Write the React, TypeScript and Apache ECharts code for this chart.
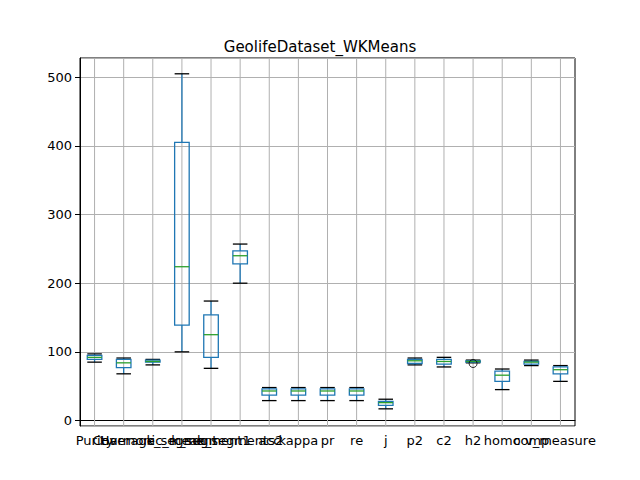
import React, { useEffect, useRef } from "react";
import * as echarts from "echarts";

const categories = ["Purity", "Coverage", "Harmonic_mean", "k_segment", "k_segment1", "k_segments2", "acc", "kappa", "pr", "re", "j", "p2", "c2", "h2", "homo", "comp", "v_measure"];
// [whiskerLow, q1, median, q3, whiskerHigh]
const boxes = [
  [85, 89, 92, 95, 97],
  [68, 77, 84, 89, 91],
  [81, 85, 86, 88, 89],
  [100, 139, 224, 405, 505],
  [76, 92, 125, 154, 174],
  [200, 228, 240, 247, 257],
  [29, 37, 43, 46, 48],
  [29, 37, 43, 46, 48],
  [29, 37, 43, 46, 48],
  [29, 37, 43, 46, 48],
  [17, 22, 26, 28, 31],
  [81, 83, 87, 89, 91],
  [78, 82, 86, 89, 92],
  [84, 85, 86, 87, 88],
  [45, 57, 66, 72, 75],
  [80, 82, 85, 86, 88],
  [57, 68, 74, 78, 80],
];
const outliers = [[13, 83]];

const font = "DejaVu Sans";

const App: React.FC = () => {
  const ref = useRef<HTMLDivElement>(null);
  useEffect(() => {
    const chart = echarts.init(ref.current!, null, { renderer: "svg" });
    chart.setOption({
      animation: false,
      title: { text: "GeolifeDataset_WKMeans", left: "center", top: 34, textStyle: { fontFamily: font, fontSize: 15, fontWeight: "normal", color: "#000" } },
      grid: { left: 80, right: 65, top: 58, bottom: 54, show: true, borderColor: "#000", borderWidth: 1 },
      xAxis: {
        type: "category", data: categories, boundaryGap: true,
        axisLine: { lineStyle: { color: "#000" } },
        axisTick: { alignWithLabel: true, lineStyle: { color: "#000" } },
        axisLabel: { interval: 0, color: "#000", fontFamily: font, fontSize: 13, hideOverlap: false },
        splitLine: { show: false },
      },
      yAxis: {
        type: "value", min: -8, max: 528,
        axisLine: { show: true, lineStyle: { color: "#000" } },
        axisTick: { show: true, lineStyle: { color: "#000" } },
        axisLabel: { color: "#000", fontFamily: font, fontSize: 13, showMinLabel: false, showMaxLabel: false },
        splitLine: { lineStyle: { color: "#b0b0b0" } },
      },
      series: [
        {
          type: "custom",
          data: boxes.map((b, i) => [i, ...b]),
          renderItem: (params: any, api: any) => {
            const i = api.value(0);
            const cs = params.coordSys;
            const [x] = api.coord([i, 0]);
            const w = api.size([1, 0])[0] * 0.5;
            const p = [1, 2, 3, 4, 5].map((k) => api.coord([i, api.value(k)])[1]);
            const blue = "#1f77b4";
            return {
              type: "group",
              children: [
                { type: "line", shape: { x1: x, y1: cs.y, x2: x, y2: cs.y + cs.height }, style: { stroke: "#b0b0b0", lineWidth: 1 } },
                { type: "line", shape: { x1: x, y1: p[0], x2: x, y2: p[1] }, style: { stroke: blue, lineWidth: 1.3 } },
                { type: "line", shape: { x1: x, y1: p[3], x2: x, y2: p[4] }, style: { stroke: blue, lineWidth: 1.3 } },
                { type: "line", shape: { x1: x - w / 2, y1: p[0], x2: x + w / 2, y2: p[0] }, style: { stroke: "#000", lineWidth: 1.3 } },
                { type: "line", shape: { x1: x - w / 2, y1: p[4], x2: x + w / 2, y2: p[4] }, style: { stroke: "#000", lineWidth: 1.3 } },
                { type: "rect", shape: { x: x - w / 2, y: p[3], width: w, height: p[1] - p[3] }, style: { fill: "none", stroke: blue, lineWidth: 1.3 } },
                { type: "line", shape: { x1: x - w / 2, y1: p[2], x2: x + w / 2, y2: p[2] }, style: { stroke: "#2ca02c", lineWidth: 1.3 } },
              ],
            };
          },
        },
        {
          type: "scatter",
          data: outliers,
          symbol: "circle",
          symbolSize: 8,
          itemStyle: { color: "transparent", borderColor: "#000", borderWidth: 1 },
          z: 5,
        },
      ],
    });
    return () => chart.dispose();
  }, []);
  return <div ref={ref} style={{ width: 640, height: 480, margin: -8 }} />;
};

export default App;
